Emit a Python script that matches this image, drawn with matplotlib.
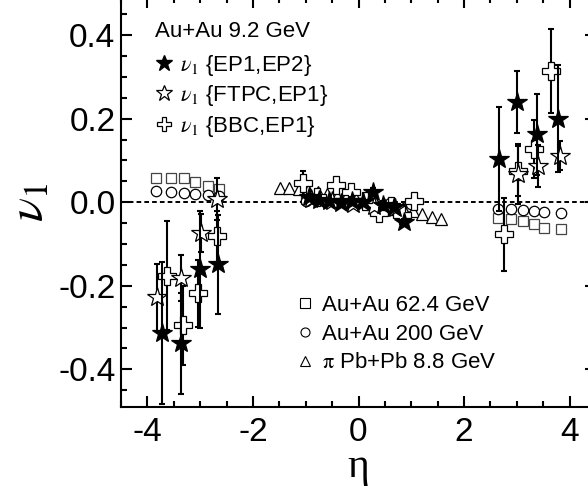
import matplotlib
matplotlib.use('Agg')
import matplotlib.pyplot as plt
from matplotlib.lines import Line2D
from matplotlib.ticker import MultipleLocator, FormatStrFormatter

plt.rcParams['font.family'] = ['Liberation Sans', 'DejaVu Sans']
plt.rcParams['mathtext.fontset'] = 'stix'
plt.rcParams['axes.unicode_minus'] = False

# ---------------- data ----------------
# v1{EP1,EP2}  (filled stars)
ep12_eta = [-3.73, -3.37, -3.00, -2.66,
            -0.93, -0.75, -0.55, -0.33, -0.12, 0.08, 0.27, 0.47, 0.67, 0.87,
            2.67, 3.00, 3.39, 3.78]
ep12_v1 = [-0.312, -0.338, -0.160, -0.149,
           0.012, 0.006, 0.003, -0.002, 0.004, 0.000, 0.025, -0.006, -0.012, -0.048,
           0.103, 0.240, 0.163, 0.200]
ep12_err = [0.170, 0.120, 0.140, 0.118,
            0.008, 0.008, 0.008, 0.008, 0.008, 0.008, 0.008, 0.008, 0.008, 0.008,
            0.124, 0.075, 0.097, 0.128]

# v1{FTPC,EP1}  (open stars)
ftpc_eta = [-3.81, -3.37, -2.99, -2.68,
            -0.90, -0.50, -0.10, 0.30, 0.70,
            3.02, 3.41, 3.81]
ftpc_v1 = [-0.228, -0.182, -0.073, 0.007,
           0.008, 0.002, -0.004, -0.010, -0.015,
           0.067, 0.087, 0.111]
ftpc_err = [0.080, 0.055, 0.045, 0.050,
            0.006, 0.006, 0.006, 0.006, 0.006,
            0.072, 0.050, 0.035]

# v1{BBC,EP1}  (open crosses)
bbc_eta = [-3.62, -3.33, -3.04, -2.68,
           -1.06, -0.78, -0.43, -0.14, 0.12, 0.39, 0.62, 0.83, 1.05,
           2.75, 3.02, 3.32, 3.64]
bbc_v1 = [-0.176, -0.295, -0.218, -0.082,
          0.046, 0.012, 0.042, 0.025, 0.003, -0.026, -0.010, -0.030, 0.002,
          -0.077, 0.074, 0.127, 0.314]
bbc_err = [0.130, 0.095, 0.080, 0.060,
           0.028, 0.010, 0.010, 0.010, 0.010, 0.010, 0.010, 0.010, 0.010,
           0.088, 0.060, 0.070, 0.100]

# Au+Au 62.4 GeV (squares)
au62_eta = [-3.83, -3.55, -3.31, -3.10, -2.86, -2.65,
            -1.00, -0.60, -0.20, 0.20, 0.60, 1.00,
            2.65, 2.89, 3.11, 3.32, 3.52, 3.83]
au62_v1 = [0.057, 0.057, 0.057, 0.048, 0.038, 0.031,
           0.008, 0.005, 0.002, -0.003, -0.006, -0.009,
           -0.037, -0.041, -0.045, -0.053, -0.061, -0.065]

# Au+Au 200 GeV (circles)
au200_eta = [-3.83, -3.55, -3.31, -3.10, -2.86, -2.65,
             -1.00, -0.60, -0.20, 0.20, 0.60, 1.00,
             2.65, 2.89, 3.11, 3.32, 3.52, 3.83]
au200_v1 = [0.027, 0.024, 0.022, 0.020, 0.017, 0.014,
            0.004, 0.003, 0.001, -0.001, -0.003, -0.004,
            -0.017, -0.017, -0.018, -0.021, -0.023, -0.025]

# pi Pb+Pb 8.8 GeV (triangles)
pb_eta = [-1.49, -1.31, -1.13, -0.95, -0.77, -0.59, -0.41, -0.23, -0.05,
          0.13, 0.31, 0.49, 0.67, 0.85, 1.03, 1.21, 1.39, 1.56]
pb_v1 = [0.035, 0.035, 0.032, 0.028, 0.024, 0.020, 0.016, 0.012, 0.008,
         0.004, 0.000, -0.004, -0.008, -0.013, -0.020, -0.029, -0.035, -0.039]

x_ticks = [-4, -2, 0, 2, 4]
y_ticks = [-0.4, -0.2, 0.0, 0.2, 0.4]

# ---------------- figure ----------------
fig = plt.figure(figsize=(5.88, 4.86), dpi=100)
ax = fig.add_axes([121 / 588, 79 / 486, 475 / 588, 409.6 / 486])

ax.axhline(0, color='black', lw=1.4, ls=(0, (2.4, 1.6)), zorder=1)

ebkw = dict(fmt='none', ecolor='black', elinewidth=1.5, capsize=2.5, capthick=1.5)

ax.plot(au62_eta, au62_v1, ls='none', marker='s', ms=7.5, mfc='white', mec='#444444', mew=0.9, zorder=2)
ax.plot(au200_eta, au200_v1, ls='none', marker='o', ms=7.5, mfc='white', mec='black', mew=0.9, zorder=2)
ax.plot(pb_eta, pb_v1, ls='none', marker='^', ms=8, mfc='white', mec='black', mew=0.9, zorder=2)

ax.errorbar(bbc_eta, bbc_v1, yerr=bbc_err, zorder=3, **ebkw)
ax.plot(bbc_eta, bbc_v1, ls='none', marker='P', ms=13, mfc='white', mec='black', mew=0.9, zorder=3)
ax.errorbar(ftpc_eta, ftpc_v1, yerr=ftpc_err, zorder=4, **ebkw)
ax.plot(ftpc_eta, ftpc_v1, ls='none', marker='*', ms=15, mfc='white', mec='black', mew=0.9, zorder=4)
ax.errorbar(ep12_eta, ep12_v1, yerr=ep12_err, zorder=5, **ebkw)
ax.plot(ep12_eta, ep12_v1, ls='none', marker='*', ms=15, mfc='black', mec='black', mew=0.9, zorder=5)

ax.set_xlim(-4.5, 4.5)
ax.set_ylim(-0.49, 0.49)
ax.set_xticks(x_ticks)
ax.set_yticks(y_ticks)
ax.xaxis.set_minor_locator(MultipleLocator(0.5))
ax.yaxis.set_minor_locator(MultipleLocator(0.05))
ax.yaxis.set_major_formatter(FormatStrFormatter('%.1f'))
ax.tick_params(which='both', direction='in', top=True, right=True, width=1.5)
ax.tick_params(which='major', length=8, labelsize=24)
ax.tick_params(which='minor', length=4.3)
ax.tick_params(axis='x', which='major', pad=7)
ax.tick_params(axis='y', which='major', pad=4)
for s in ax.spines.values():
    s.set_linewidth(1.5)

ax.set_ylabel(r'$\nu_{\mathit{1}}$', fontsize=36)
ax.yaxis.set_label_coords(-0.145, 0.5)
ax.set_xlabel('η', fontsize=30, fontfamily='Liberation Serif', labelpad=0)

# legends
ax.text(0.0716, 0.9033, 'Au+Au 9.2 GeV', transform=ax.transAxes, fontsize=16,
        ha='left', va='baseline')
h1 = [Line2D([], [], ls='none', marker='*', ms=12, mfc='black', mec='black'),
      Line2D([], [], ls='none', marker='*', ms=12, mfc='white', mec='black', mew=0.9),
      Line2D([], [], ls='none', marker='P', ms=10.5, mfc='white', mec='black', mew=0.9)]
l1 = [r'$\nu_{\mathit{1}}$ {EP1,EP2}', r'$\nu_{\mathit{1}}$ {FTPC,EP1}', r'$\nu_{\mathit{1}}$ {BBC,EP1}']
leg1 = ax.legend(h1, l1, loc='upper left', bbox_to_anchor=(0.068, 0.865),
                 frameon=False, fontsize=16,
                 handlelength=1.0, handletextpad=0.2, labelspacing=0.25, borderpad=0,
                 borderaxespad=0)
ax.add_artist(leg1)

h2 = [Line2D([], [], ls='none', marker='s', ms=6.5, mfc='white', mec='black', mew=0.8),
      Line2D([], [], ls='none', marker='o', ms=6.5, mfc='white', mec='black', mew=0.8),
      Line2D([], [], ls='none', marker='^', ms=6.5, mfc='white', mec='black', mew=0.8)]
l2 = ['Au+Au 62.4 GeV', 'Au+Au 200 GeV', r'$\mathrm{\pi}$ Pb+Pb 8.8 GeV']
ax.legend(h2, l2, loc='upper left', bbox_to_anchor=(0.371, 0.274), frameon=False, fontsize=16,
          handlelength=0.7, handletextpad=0.4, labelspacing=0.35, borderpad=0, borderaxespad=0)

fig.savefig('out.png', dpi=100)
